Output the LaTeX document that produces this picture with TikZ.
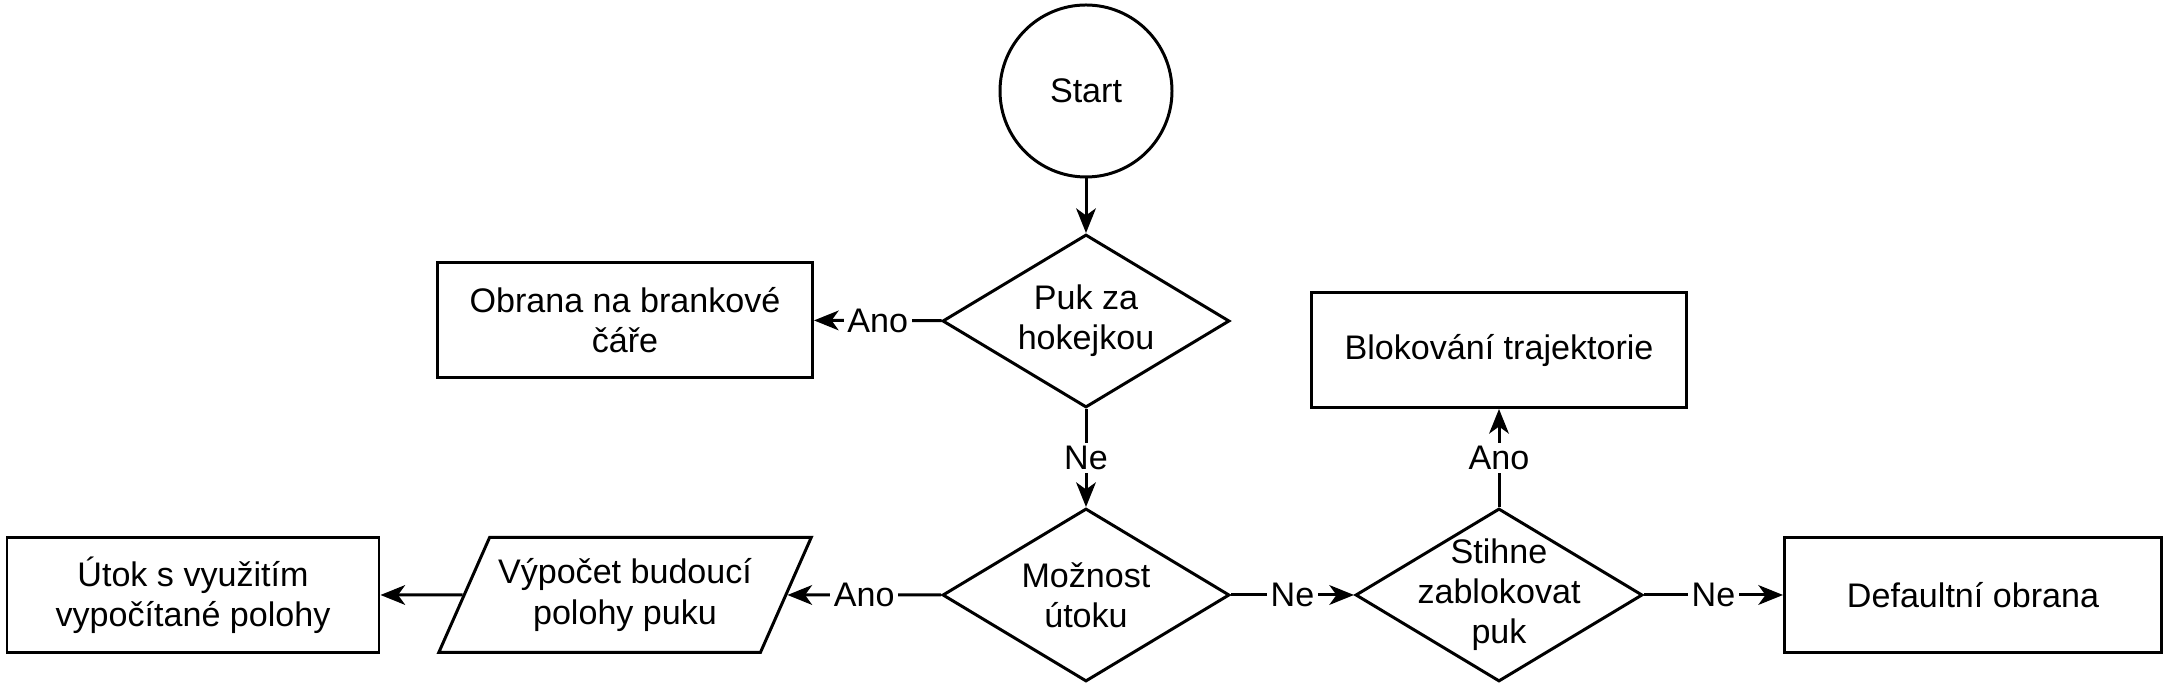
\documentclass[tikz,border=0pt]{standalone}
\usepackage{fontspec}
\setmainfont{Liberation Sans}
\usetikzlibrary{shapes.geometric}
\usetikzlibrary{arrows.meta}
\tikzset{>={Stealth[length=7pt,width=5.6pt,inset=2pt]}}
\tikzset{
	every node/.style={font=\fontsize{9.7}{11.4}\selectfont},
	% box style
	box/.style={draw,line width=0.85pt,minimum width=3.75cm,minimum height=1.15cm,align=center,inner sep=0pt},
	% decision style, the text may run over the edges
	decision/.style={draw,diamond,line width=0.85pt,minimum width=2.87cm,minimum height=1.73cm,align=center,inner sep=-1cm},
	% calculation style
	calc/.style={draw,trapezium,trapezium stretches=true,trapezium left angle=56.6,trapezium right angle=123.4,line width=0.85pt,minimum width=3.75cm,minimum height=1.15cm,align=center,inner sep=0pt},
	% arrow style
	flow/.style={->,line width=0.85pt},
	answer/.style={fill=white,inner sep=1pt},
}

\begin{document}
\begin{tikzpicture}
\useasboundingbox (0,0) rectangle (21.70,-6.88);
% the nodes
\node[draw,circle,line width=0.85pt,minimum size=1.72cm] (start) at (10.86,-0.91) {Start};
\node[decision] (puk) at (10.86,-3.21) {Puk za\\hokejkou};
\node[box] (obrana) at (6.25,-3.20) {Obrana na brankové\\čáře};
\node[decision] (moznost) at (10.86,-5.95) {Možnost\\útoku};
\node[calc] (vypocet) at (6.25,-5.95) {Výpočet budoucí\\polohy puku};
\node[box,minimum width=3.72cm] (utok) at (1.93,-5.95) {Útok s využitím\\vypočítané polohy};
\node[decision] (stihne) at (14.99,-5.95) {Stihne\\zablokovat\\puk};
\node[box] (blok) at (14.99,-3.50) {Blokování trajektorie};
\node[box,minimum width=3.77cm] (default) at (19.73,-5.95) {Defaultní obrana};
% the arrows
\draw[flow] (start) -- (puk);
\draw[flow] (puk) -- node[answer] {Ano} (obrana);
\draw[flow] (puk) -- node[answer] {Ne} (moznost);
\draw[flow] (moznost) -- node[answer] {Ano} (vypocet);
\draw[flow] (vypocet) -- (utok);
\draw[flow] (moznost) -- node[answer] {Ne} (stihne);
\draw[flow] (stihne) -- node[answer] {Ano} (blok);
\draw[flow] (stihne) -- node[answer] {Ne} (default);
\end{tikzpicture}
\end{document}
